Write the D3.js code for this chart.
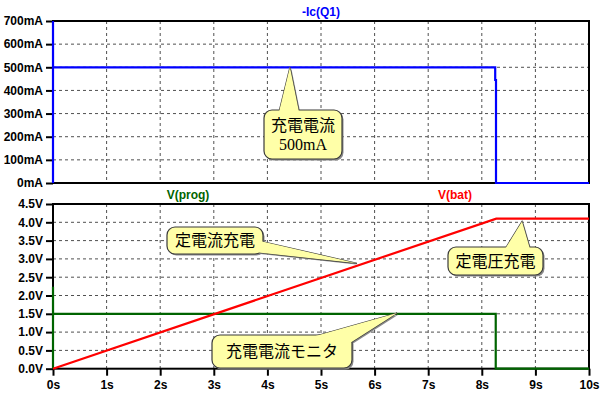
<!DOCTYPE html>
<html>
<head>
<meta charset="utf-8">
<script src="https://cdn.jsdelivr.net/npm/d3@7"></script>
<style>
  body { margin: 0; background: #fff; }
  svg { display: block; }
  .tick text { font-family: "Liberation Sans", Arial, sans-serif; font-weight: bold; font-size: 12px; fill: #000; }
  .grid line { stroke: #505050; stroke-width: 1; stroke-dasharray: 3,3; }
</style>
</head>
<body>
<svg></svg>
<script>
// -Ic(Q1) trace, mA
let icTime = [0, 0, 0.001, 8.25, 8.25, 8.265, 8.265, 10]
let icValue = [0, 700, 500, 500, 445, 445, 0, 0]

// V(prog) trace, V
let progTime = [0, 0, 0.001, 8.26, 8.26, 10]
let progValue = [0, 2.24, 1.5, 1.5, 0, 0]

// V(bat) trace, V
let batTime = [0, 8.27, 10]
let batValue = [0, 4.1, 4.1]

let timeTicks = [0, 1, 2, 3, 4, 5, 6, 7, 8, 9, 10]
let currentTicks = [0, 100, 200, 300, 400, 500, 600, 700]
let voltTicks = [0, 0.5, 1, 1.5, 2, 2.5, 3, 3.5, 4, 4.5]

let width = 600
let height = 397
let left = 53
let right = 589

let svg = d3.select('svg').attr('width', width).attr('height', height)

let xScale = d3.scaleLinear().domain([0, 10]).range([left, right])
let yTop = d3.scaleLinear().domain([0, 700]).range([183, 21])
let yBot = d3.scaleLinear().domain([0, 4.5]).range([368.7, 204])

let zip = (ts, vs) => ts.map((t, i) => [t, vs[i]])

let drawPanel = (yScale, yTicks, fmt, showX) => {
    let [y0, y1] = yScale.range()

    // grid
    let grid = svg.append('g').attr('class', 'grid')
    grid.selectAll('.gx')
        .data(timeTicks.slice(1, -1))
        .enter().append('line')
        .attr('x1', d => xScale(d)).attr('x2', d => xScale(d))
        .attr('y1', y1).attr('y2', y0)
    grid.selectAll('.gy')
        .data(yTicks.slice(1, -1))
        .enter().append('line')
        .attr('x1', left).attr('x2', right)
        .attr('y1', d => yScale(d)).attr('y2', d => yScale(d))

    // frame
    svg.append('rect')
        .attr('x', left).attr('y', y1)
        .attr('width', right - left).attr('height', y0 - y1)
        .attr('fill', 'none').attr('stroke', '#000').attr('stroke-width', 2)

    let yAxis = d3.axisLeft(yScale).tickValues(yTicks).tickFormat(fmt)
        .tickSize(7).tickPadding(3)
    svg.append('g')
        .attr('transform', 'translate(' + left + ',0)')
        .call(yAxis)
        .call(g => g.select('.domain').remove())
        .call(g => g.selectAll('.tick line').attr('stroke-width', 2))

    if (showX) {
        let xAxis = d3.axisBottom(xScale).tickValues(timeTicks).tickFormat(d => d + 's')
            .tickSize(7).tickPadding(5)
        svg.append('g')
            .attr('transform', 'translate(0,' + y0 + ')')
            .call(xAxis)
            .call(g => g.select('.domain').remove())
            .call(g => g.selectAll('.tick line').attr('stroke-width', 2))
    }
}

drawPanel(yTop, currentTicks, d => d + 'mA', false)
drawPanel(yBot, voltTicks, d => d3.format('.1f')(d) + 'V', true)

let drawTrace = (data, yScale, color) => {
    let line = d3.line().x(d => xScale(d[0])).y(d => yScale(d[1]))
    svg.append('path')
        .datum(data)
        .attr('d', line)
        .attr('fill', 'none')
        .attr('stroke', color)
        .attr('stroke-width', 2.2)
}

drawTrace(zip(icTime, icValue), yTop, '#0000ff')
drawTrace(zip(progTime, progValue), yBot, '#006400')
drawTrace(zip(batTime, batValue), yBot, '#ff0000')

// trace titles
let title = (txt, x, y, color) => {
    svg.append('text')
        .attr('x', x).attr('y', y)
        .attr('text-anchor', 'middle')
        .attr('font-family', '"Liberation Sans", Arial, sans-serif')
        .attr('font-weight', 'bold')
        .attr('font-size', 12)
        .attr('fill', color)
        .text(txt)
}
title('-Ic(Q1)', 321, 16, '#0000ff')
title('V(prog)', 188, 199, '#006400')
title('V(bat)', 455, 199, '#ff0000')

// callouts: tip in data units, box in pixels, base = two points where the pointer meets the box
let callouts = [
    { tip: [4.42, 500], y: yTop, box: [264, 110, 78, 49], base: [[279, 112], [299, 112]],
      lines: [['充電電流', 'sans'], ['500mA', 'serif']] },
    { tip: [5.67, 2.88], y: yBot, box: [167, 227, 96, 27], base: [[260, 241], [254, 252]],
      lines: [['定電流充電', 'sans']] },
    { tip: [8.75, 4.02], y: yBot, box: [448, 247, 95, 28], base: [[505, 249], [530, 249]],
      lines: [['定電圧充電', 'sans']] },
    { tip: [6.42, 1.52], y: yBot, box: [212, 335, 140, 33], base: [[312, 337], [350, 343]],
      lines: [['充電電流モニタ', 'sans']] }
]

callouts.forEach(c => {
    let tx = xScale(c.tip[0])
    let ty = c.y(c.tip[1])
    let [bx, by, bw, bh] = c.box
    let tri = 'M' + c.base[0].join(',') + 'L' + tx + ',' + ty + 'L' + c.base[1].join(',') + 'Z'
    let g = svg.append('g')

    // shadow
    g.append('path').attr('d', tri).attr('transform', 'translate(1.5,1.5)').attr('fill', '#8a8a8a')
    g.append('rect').attr('x', bx + 1.5).attr('y', by + 1.5).attr('width', bw).attr('height', bh)
        .attr('rx', 8).attr('fill', '#8a8a8a')

    g.append('path').attr('d', tri).attr('fill', '#ffffa8').attr('stroke', '#3a3a3a').attr('stroke-width', 1.2)
    g.append('rect').attr('x', bx).attr('y', by).attr('width', bw).attr('height', bh)
        .attr('rx', 8).attr('fill', '#ffffa8').attr('stroke', '#3a3a3a').attr('stroke-width', 1.2)
    g.append('path').attr('d', tri).attr('fill', '#ffffa8')

    let n = c.lines.length
    c.lines.forEach((l, i) => {
        g.append('text')
            .attr('x', bx + bw / 2)
            .attr('y', by + bh / 2 + (i - (n - 1) / 2) * 19)
            .attr('dy', '0.36em')
            .attr('text-anchor', 'middle')
            .attr('font-family', l[1] == 'serif' ? '"Liberation Serif", serif' : '"Noto Sans CJK JP", sans-serif')
            .attr('font-size', 16)
            .attr('fill', '#000')
            .text(l[0])
    })
})
</script>
</body>
</html>
